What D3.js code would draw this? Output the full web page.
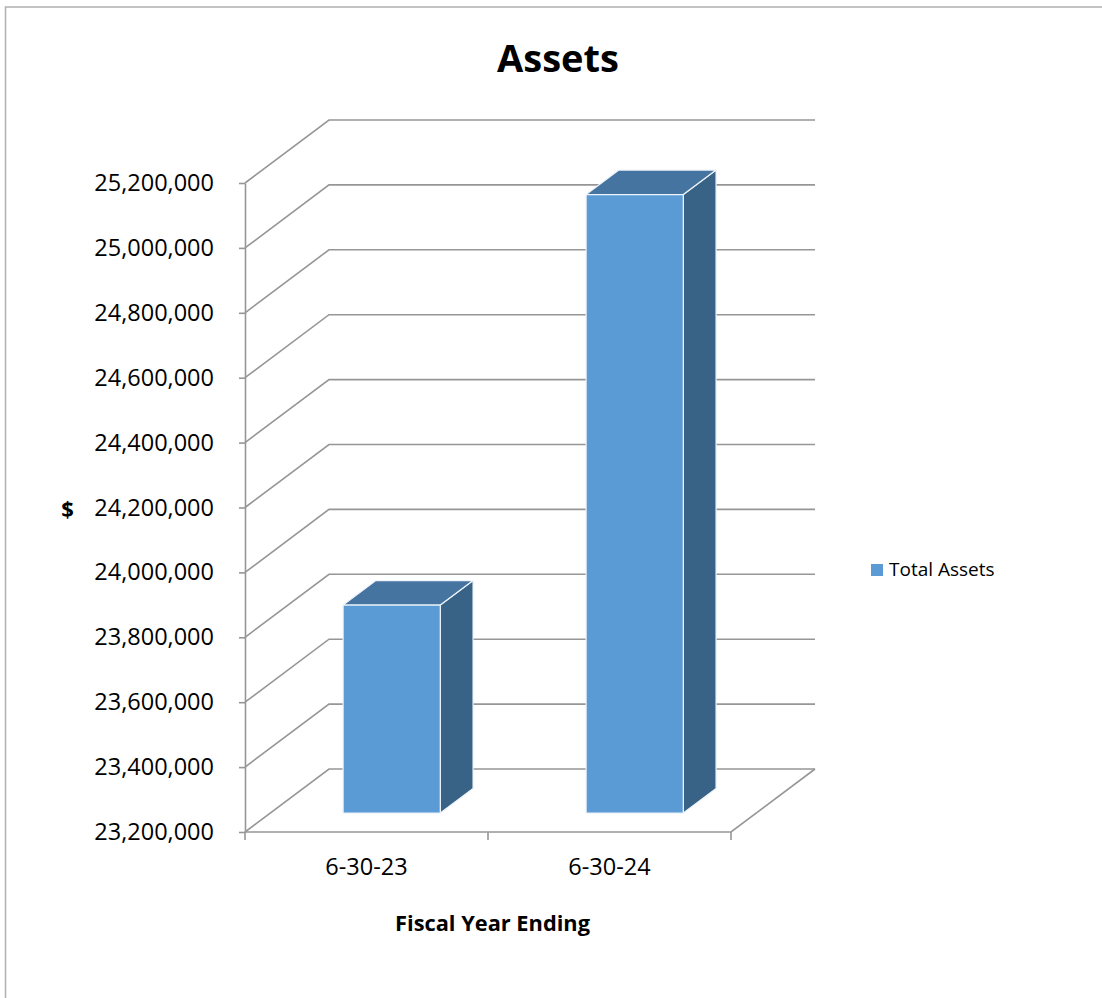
<!DOCTYPE html>
<html>
<head>
<meta charset="utf-8">
<script src="https://cdn.jsdelivr.net/npm/d3@7"></script>
<style>
  body { margin: 0; background: #fff; }
  svg { display: block; font-family: "Open Sans", sans-serif; }
</style>
</head>
<body>
<svg id="chart" width="1102" height="998"></svg>
<script>
const categories = ['6-30-23', '6-30-24'];
const totalAssets = [23841000, 25106000];
const yTicks = [23200000, 23400000, 23600000, 23800000, 24000000, 24200000,
  24400000, 24600000, 24800000, 25000000, 25200000];
const seriesName = 'Total Assets';

const svg = d3.select('#chart');

// depth vector of the 3d box, bar sits between these fractions of the depth
const depth = {dx: 84, dy: -63};
const barFront = 0.3;
const barBack = 0.69;

const y = d3.scaleLinear()
  .domain([23200000, 25200000])
  .range([832, 183]);
const x = d3.scaleBand()
  .domain(categories)
  .range([245, 731]);

const proj = (px, py, f) => [px + depth.dx * f, py + depth.dy * f];

// outer border
svg.append('rect')
  .attr('x', 5.5).attr('y', 7)
  .attr('width', 1110).attr('height', 1010)
  .attr('fill', 'none')
  .attr('stroke', '#b0b0b0')
  .attr('stroke-width', 1.5);

// title
svg.append('text')
  .attr('x', 558).attr('y', 72)
  .attr('text-anchor', 'middle')
  .style('font-weight', 'bold')
  .style('font-size', '38px')
  .text('Assets');

const gridColor = '#969696';

// gridlines: side wall diagonal + back wall line
svg.append('g')
  .selectAll('path')
  .data(yTicks)
  .join('path')
  .attr('d', t => {
    const [bx, by] = proj(x.range()[0], y(t), 1);
    const [ex] = proj(x.range()[1], y(t), 1);
    return `M${x.range()[0]},${y(t)}L${bx},${by}L${ex},${by}`;
  })
  .attr('fill', 'none')
  .attr('stroke', gridColor)
  .attr('stroke-width', 1.6);

// floor right edge + front edge
const y0 = y(yTicks[0]);
const [frx, fry] = proj(x.range()[1], y0, 1);
svg.append('path')
  .attr('d', `M${x.range()[0]},${y0}L${x.range()[1]},${y0}L${frx},${fry}`)
  .attr('fill', 'none')
  .attr('stroke', gridColor)
  .attr('stroke-width', 1.6);

// y axis
const yAxis = d3.axisLeft(y)
  .tickValues(yTicks)
  .tickSize(6)
  .tickSizeOuter(0)
  .tickPadding(25)
  .tickFormat(d3.format(','));
const yG = svg.append('g')
  .attr('transform', `translate(${x.range()[0]},0)`)
  .call(yAxis);
yG.selectAll('path, line').attr('stroke', gridColor).attr('stroke-width', 1.6);
yG.selectAll('text')
  .attr('fill', '#000')
  .style('font-family', '"Open Sans", sans-serif')
  .style('font-size', '23.5px');

// x axis ticks at band edges
const edges = categories.map(c => x(c)).concat([x.range()[1]]);
svg.append('g')
  .selectAll('line')
  .data(edges)
  .join('line')
  .attr('x1', d => d).attr('x2', d => d)
  .attr('y1', y0).attr('y2', y0 + 8)
  .attr('stroke', gridColor)
  .attr('stroke-width', 1.6);

const xAxis = d3.axisBottom(x).tickSize(0).tickPadding(0);
const xG = svg.append('g')
  .attr('transform', `translate(0,${y0})`)
  .call(xAxis);
xG.select('.domain').remove();
xG.selectAll('text')
  .attr('y', 43)
  .attr('dy', 0)
  .attr('fill', '#000')
  .style('font-family', '"Open Sans", sans-serif')
  .style('font-size', '23.5px');

// bars
const barW = x.bandwidth() * 0.4;
const bars = categories.map((c, i) => ({cat: c, value: totalAssets[i]}));
const barG = svg.append('g')
  .selectAll('g')
  .data(bars)
  .join('g');

const face = pts => 'M' + pts.map(p => p.join(',')).join('L') + 'Z';

barG.each(function(d) {
  const g = d3.select(this);
  const xl = x(d.cat) + (x.bandwidth() - barW) / 2;
  const xr = xl + barW;
  const yt = y(d.value);
  const yb = y0;
  const fTL = proj(xl, yt, barFront), fTR = proj(xr, yt, barFront);
  const fBL = proj(xl, yb, barFront), fBR = proj(xr, yb, barFront);
  const bTL = proj(xl, yt, barBack), bTR = proj(xr, yt, barBack);
  const bBR = proj(xr, yb, barBack);
  g.append('path').attr('d', face([fTR, bTR, bBR, fBR]))
    .attr('fill', '#386387').attr('stroke', '#eef4fa').attr('stroke-width', 1.2)
    .attr('stroke-linejoin', 'round');
  g.append('path').attr('d', face([fTL, bTL, bTR, fTR]))
    .attr('fill', '#4574a1').attr('stroke', '#eef4fa').attr('stroke-width', 1.2)
    .attr('stroke-linejoin', 'round');
  g.append('path').attr('d', face([fTL, fTR, fBR, fBL]))
    .attr('fill', '#5b9bd5').attr('stroke', '#eef4fa').attr('stroke-width', 1.2)
    .attr('stroke-linejoin', 'round');
});

// axis titles
svg.append('text')
  .attr('x', 67.5).attr('y', 517)
  .attr('text-anchor', 'middle')
  .style('font-weight', 'bold')
  .style('font-size', '22px')
  .text('$');
svg.append('text')
  .attr('x', 492.5).attr('y', 931)
  .attr('text-anchor', 'middle')
  .style('font-weight', 'bold')
  .style('font-size', '21.8px')
  .text('Fiscal Year Ending');

// legend
const legend = svg.append('g').attr('transform', 'translate(871,564)');
legend.append('rect')
  .attr('width', 12).attr('height', 12)
  .attr('fill', '#5b9bd5');
legend.append('text')
  .attr('x', 18).attr('y', 12)
  .style('font-size', '19px')
  .text(seriesName);
</script>
</body>
</html>
